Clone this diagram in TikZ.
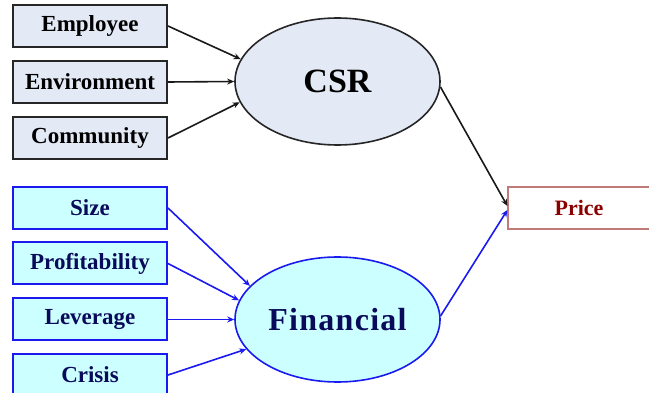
\documentclass[tikz,border=0pt]{standalone}
\usepackage{fontspec}
\setmainfont{Liberation Serif}
\usetikzlibrary{shapes.geometric,arrows.meta}
\definecolor{csrfill}{HTML}{E3E9F5}
\definecolor{finfill}{HTML}{CCFFFF}
\definecolor{finblue}{HTML}{1A1AF0}
\definecolor{navy}{HTML}{0A0A5A}
\definecolor{priceline}{HTML}{C07A7A}
\definecolor{pricetext}{HTML}{8B0000}
\begin{document}
\begin{tikzpicture}[x=1pt,y=-1pt,
  csrbox/.style={draw=black!85, line width=2pt, fill=csrfill, rectangle, minimum width=154pt, minimum height=42pt, inner sep=0pt, font=\fontsize{23}{26}\selectfont\bfseries, text=black},
  finbox/.style={draw=finblue, line width=2pt, fill=finfill, rectangle, minimum width=154pt, minimum height=42pt, inner sep=0pt, font=\fontsize{23}{26}\selectfont\bfseries, text=navy},
  csrell/.style={draw=black!85, line width=1.6pt, fill=csrfill, ellipse, minimum width=205pt, minimum height=127pt, inner sep=0pt, font=\fontsize{34}{38}\selectfont\bfseries},
  finell/.style={draw=finblue, line width=1.6pt, fill=finfill, ellipse, minimum width=205pt, minimum height=125pt, inner sep=0pt, font=\fontsize{32}{36}\selectfont\bfseries, text=navy},
  blackarr/.style={draw=black!90, line width=1.6pt, -{Stealth[length=7pt,width=6pt]}},
  bluearr/.style={draw=finblue, line width=1.6pt, -{Stealth[length=7pt,width=6pt]}}
]
\useasboundingbox (0,0) rectangle (649,393);
\clip (0,0) rectangle (649,393);
\node[csrbox] (emp) at (90,26) {Employee};
\node[csrbox] (env) at (90,82) {Environment};
\node[csrbox] (com) at (90,138) {Community};
\node[finbox] (size) at (90,208) {Size};
\node[finbox] (prof) at (90,263.5) {Profitability};
\node[finbox] (lev) at (90,319.5) {Leverage};
\node[finbox] (cri) at (90,375) {Crisis};
\node[csrell] (csr) at (337.5,81.5) {CSR};
\node[finell] (fin) at (337.5,319.5) {\addfontfeature{LetterSpace=4}Financial};
\node[draw=priceline, line width=1.2pt, rectangle, minimum width=142pt, minimum height=42pt, inner sep=0pt, font=\fontsize{22}{26}\selectfont\bfseries, text=pricetext] (price) at (579,208) {Price};
\draw[blackarr] (emp.east) -- (csr.167);
\draw[blackarr] (env.east) -- (csr.180);
\draw[blackarr] (com.east) -- (csr.192);
\draw[bluearr] (size.east) -- (fin.159.5);
\draw[bluearr] (prof.east) -- (fin.169);
\draw[bluearr] (lev.east) -- (fin.180);
\draw[bluearr] (cri.east) -- (fin.198);
\draw[blackarr] (csr.-3) -- ([yshift=2pt]price.west);
\draw[bluearr] (fin.2) -- ([yshift=-2pt]price.west);
\end{tikzpicture}
\end{document}
